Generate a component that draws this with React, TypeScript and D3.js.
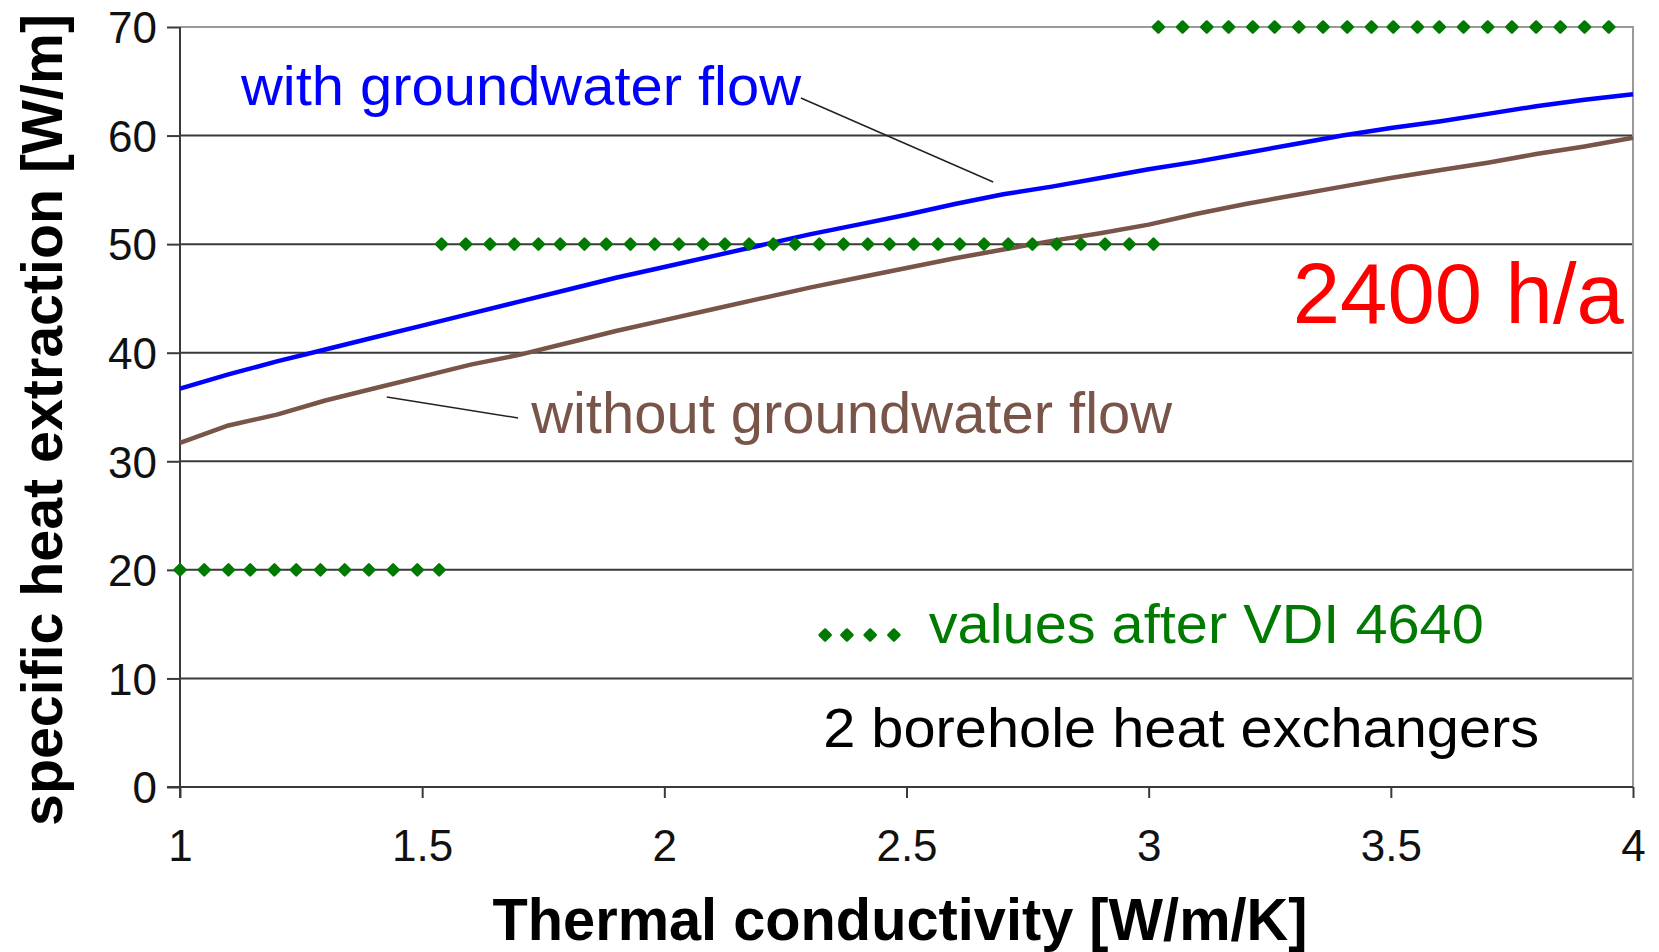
import { useEffect, useRef } from 'react'
import * as d3 from 'd3'

// thermal conductivity [W/m/K] sampled for the two simulated curves
const conductivity = [
  1.0, 1.1, 1.2, 1.3, 1.4, 1.5, 1.6, 1.7, 1.8, 1.9, 2.0, 2.1, 2.2, 2.3, 2.4, 2.5,
  2.6, 2.7, 2.8, 2.9, 3.0, 3.1, 3.2, 3.3, 3.4, 3.5, 3.6, 3.7, 3.8, 3.9, 4.0,
]
const withFlow = [
  36.7, 38.0, 39.2, 40.3, 41.4, 42.5, 43.6, 44.7, 45.8, 46.9, 47.9, 48.9, 49.9, 50.9, 51.8, 52.7,
  53.7, 54.6, 55.3, 56.1, 56.9, 57.6, 58.4, 59.2, 60.0, 60.7, 61.3, 62.0, 62.7, 63.3, 63.8,
]
const withoutFlow = [
  31.7, 33.3, 34.3, 35.6, 36.7, 37.8, 38.9, 39.8, 40.9, 42.0, 43.0, 44.0, 45.0, 46.0, 46.9, 47.8,
  48.7, 49.5, 50.3, 51.0, 51.8, 52.8, 53.7, 54.5, 55.3, 56.1, 56.8, 57.5, 58.3, 59.0, 59.8,
]

// VDI 4640 guide values (dotted markers)
const vdiLowK = [1.0, 1.05, 1.1, 1.145, 1.195, 1.24, 1.29, 1.34, 1.39, 1.44, 1.49, 1.535]
const vdiLowValue = 20
const vdiMidK = [
  1.54, 1.59, 1.64, 1.69, 1.74, 1.785, 1.835, 1.88, 1.93, 1.98, 2.03, 2.08, 2.125, 2.175, 2.225, 2.27,
  2.32, 2.37, 2.42, 2.465, 2.515, 2.565, 2.61, 2.66, 2.71, 2.76, 2.81, 2.86, 2.91, 2.96, 3.01,
]
const vdiMidValue = 50
const vdiHighK = [
  3.02, 3.07, 3.12, 3.165, 3.215, 3.26, 3.31, 3.36, 3.41, 3.46, 3.505, 3.555, 3.6, 3.65, 3.7, 3.75,
  3.8, 3.85, 3.9, 3.95,
]
const vdiHighValue = 70

const yTicks = [0, 10, 20, 30, 40, 50, 60, 70]
const xTicks = [1, 1.5, 2, 2.5, 3, 3.5, 4]
const xTickLabels = ['1', '1.5', '2', '2.5', '3', '3.5', '4']

const legendK = [2.332, 2.377, 2.425, 2.474]

const FONT = '"Liberation Sans", Arial, Helvetica, sans-serif'
const GREEN = '#007a00'
const BLUE = '#0000ff'
const BROWN = '#795449'
const GRID = '#3a3a3a'
const FRAME = '#9a9a9a'

export default function App() {
  const ref = useRef<SVGSVGElement | null>(null)

  useEffect(() => {
    if (!ref.current) {return}
    const svg = d3.select(ref.current)
    svg.selectAll('*').remove()

    const x = d3.scaleLinear().domain([1, 4]).range([180, 1633])
    const y = d3.scaleLinear().domain([0, 70]).range([787, 27])

    const root = svg.append('g')

    // horizontal grid lines
    root
      .append('g')
      .selectAll('line')
      .data(yTicks.filter((t) => t > 0 && t < 70))
      .join('line')
      .attr('x1', x(1))
      .attr('x2', x(4))
      .attr('y1', (d) => y(d))
      .attr('y2', (d) => y(d))
      .attr('stroke', GRID)
      .attr('stroke-width', 2)

    // plot frame: top and right in light gray
    root
      .append('path')
      .attr('d', `M${x(1)},${y(70)}H${x(4)}V${y(0)}`)
      .attr('fill', 'none')
      .attr('stroke', FRAME)
      .attr('stroke-width', 2)

    // y axis
    const yAxis = root
      .append('g')
      .attr('transform', `translate(${x(1)},0)`)
      .call(d3.axisLeft(y).tickValues(yTicks).tickSize(13).tickSizeOuter(0).tickFormat(d3.format('d')))
    yAxis.select('.domain').remove()
    yAxis.selectAll('line').attr('stroke', GRID).attr('stroke-width', 2)
    yAxis
      .selectAll('text')
      .attr('x', -23)
      .attr('dy', '0.36em')
      .attr('fill', '#111')
      .style('font-family', FONT)
      .style('font-size', '44px')
    root
      .append('line')
      .attr('x1', x(1))
      .attr('x2', x(1))
      .attr('y1', y(70))
      .attr('y2', y(0) + 11)
      .attr('stroke', GRID)
      .attr('stroke-width', 2)

    // x axis
    const xAxis = root
      .append('g')
      .attr('transform', `translate(0,${y(0)})`)
      .call(
        d3
          .axisBottom(x)
          .tickValues(xTicks)
          .tickSize(11)
          .tickSizeOuter(0)
          .tickFormat((_, i) => xTickLabels[i]),
      )
    xAxis.select('.domain').remove()
    xAxis.selectAll('line').attr('stroke', GRID).attr('stroke-width', 2)
    xAxis
      .selectAll('text')
      .attr('y', 74)
      .attr('dy', 0)
      .attr('fill', '#111')
      .style('font-family', FONT)
      .style('font-size', '44px')
    root
      .append('line')
      .attr('x1', x(1) - 13)
      .attr('x2', x(4))
      .attr('y1', y(0))
      .attr('y2', y(0))
      .attr('stroke', GRID)
      .attr('stroke-width', 2)

    // curves
    const line = d3
      .line<number>()
      .x((_, i) => x(conductivity[i]))
      .y((d) => y(d))

    root
      .append('path')
      .datum(withoutFlow)
      .attr('fill', 'none')
      .attr('stroke', BROWN)
      .attr('stroke-width', 4.5)
      .attr('stroke-linejoin', 'round')
      .attr('d', line)

    root
      .append('path')
      .datum(withFlow)
      .attr('fill', 'none')
      .attr('stroke', BLUE)
      .attr('stroke-width', 4.5)
      .attr('stroke-linejoin', 'round')
      .attr('d', line)

    // VDI 4640 markers
    const diamond = d3.symbol().type(d3.symbolDiamond2).size(78)()
    const vdiPoints = [
      ...vdiLowK.map((k) => [k, vdiLowValue]),
      ...vdiMidK.map((k) => [k, vdiMidValue]),
      ...vdiHighK.map((k) => [k, vdiHighValue]),
    ]
    root
      .append('g')
      .selectAll('path')
      .data(vdiPoints)
      .join('path')
      .attr('transform', (d) => `translate(${x(d[0])},${y(d[1])})`)
      .attr('d', diamond)
      .attr('fill', GREEN)
      .attr('stroke', GREEN)
      .attr('stroke-width', 2.5)
      .attr('stroke-linejoin', 'round')

    // annotations
    const label = (
      text: string,
      k: number,
      v: number,
      size: number,
      color: string,
      len: number,
      anchor = 'start',
    ) =>
      root
        .append('text')
        .attr('x', x(k))
        .attr('y', y(v))
        .attr('text-anchor', anchor)
        .attr('fill', color)
        .attr('textLength', len)
        .attr('lengthAdjust', 'spacingAndGlyphs')
        .style('font-family', FONT)
        .style('font-size', `${size}px`)
        .text(text)

    label('with groundwater flow', 1.126, 62.82, 56, BLUE, 560)
    label('without groundwater flow', 1.725, 32.61, 57, BROWN, 641)
    label('2400 h/a', 3.981, 42.74, 85, '#ff0000', 331, 'end')
    label('values after VDI 4640', 2.546, 13.26, 55, GREEN, 555)
    label('2 borehole heat exchangers', 2.328, 3.68, 55, '#000', 716)

    const leaders = [
      [[2.282, 63.46], [2.679, 55.72]],
      [[1.427, 35.92], [1.698, 33.99]],
    ]
    root
      .append('g')
      .selectAll('line')
      .data(leaders)
      .join('line')
      .attr('x1', (d) => x(d[0][0]))
      .attr('y1', (d) => y(d[0][1]))
      .attr('x2', (d) => x(d[1][0]))
      .attr('y2', (d) => y(d[1][1]))
      .attr('stroke', '#222')
      .attr('stroke-width', 1.5)

    root
      .append('g')
      .selectAll('path')
      .data(legendK)
      .join('path')
      .attr('transform', (d) => `translate(${x(d)},${y(14.0)})`)
      .attr('d', diamond)
      .attr('fill', GREEN)
      .attr('stroke', GREEN)
      .attr('stroke-width', 2.5)
      .attr('stroke-linejoin', 'round')

    // axis titles
    root
      .append('text')
      .attr('x', 900)
      .attr('y', 940)
      .attr('text-anchor', 'middle')
      .attr('textLength', 815)
      .attr('lengthAdjust', 'spacingAndGlyphs')
      .attr('fill', '#000')
      .style('font-family', FONT)
      .style('font-weight', 'bold')
      .style('font-size', '59px')
      .text('Thermal conductivity [W/m/K]')

    root
      .append('text')
      .attr('transform', 'translate(62,420) rotate(-90)')
      .attr('text-anchor', 'middle')
      .attr('textLength', 812)
      .attr('lengthAdjust', 'spacingAndGlyphs')
      .attr('fill', '#000')
      .style('font-family', FONT)
      .style('font-weight', 'bold')
      .style('font-size', '57px')
      .text('specific heat extraction [W/m]')
  }, [])

  return (
    <svg
      ref={ref}
      width={1659}
      height={952}
      style={{ position: 'absolute', left: 0, top: 0, background: '#fff' }}
    />
  )
}
